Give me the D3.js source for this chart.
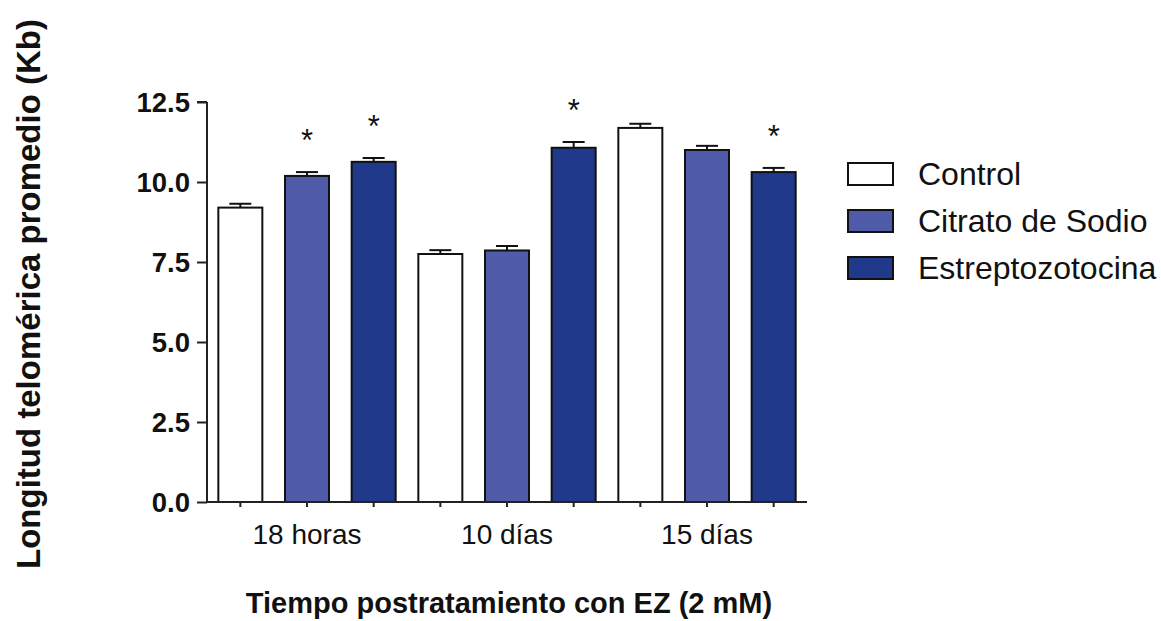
<!DOCTYPE html>
<html>
<head>
<meta charset="utf-8">
<script src="https://cdn.jsdelivr.net/npm/d3@7"></script>
<style>
  html, body { margin: 0; padding: 0; background: #fff; }
  svg { display: block; font-family: "Liberation Sans", Arial, sans-serif; }
</style>
</head>
<body>
<svg id="chart" width="1161" height="621"></svg>
<script>
// ---- data ----
const groups = ["18 horas", "10 días", "15 días"];
const seriesNames = ["Control", "Citrato de Sodio", "Estreptozotocina"];
const controlValues = [9.2, 7.75, 11.69];
const citratoValues = [10.19, 7.86, 11.0];
const estrepValues = [10.63, 11.07, 10.31];
const controlErr = [0.12, 0.12, 0.13];
const citratoErr = [0.12, 0.14, 0.13];
const estrepErr = [0.12, 0.18, 0.13];
const controlSig = [false, false, false];
const citratoSig = [true, false, false];
const estrepSig = [true, true, true];
const yTicks = [0, 2.5, 5, 7.5, 10, 12.5];
const yTitle = "Longitud telomérica promedio (Kb)";
const xTitle = "Tiempo postratamiento con EZ (2 mM)";

const colors = ["#ffffff", "#4f5aa8", "#20398b"];
const seriesVals = [controlValues, citratoValues, estrepValues];
const seriesErr = [controlErr, citratoErr, estrepErr];
const seriesSig = [controlSig, citratoSig, estrepSig];

const rows = [];
groups.forEach((g, gi) => {
  seriesNames.forEach((s, si) => {
    rows.push({ key: g + "|" + s, group: g, si, value: seriesVals[si][gi], err: seriesErr[si][gi], sig: seriesSig[si][gi] });
  });
});

const svg = d3.select("#chart");
const x0 = 207, x1 = 807, yBase = 502, yTop = 102;

const x = d3.scaleBand().domain(rows.map(d => d.key)).range([x0, x1]).paddingInner(0.34).paddingOuter(0.17);
const y = d3.scaleLinear().domain([0, 12.5]).range([yBase, yTop]);

// bars
svg.append("g").selectAll("rect").data(rows).join("rect")
  .attr("x", d => x(d.key))
  .attr("y", d => y(d.value))
  .attr("width", x.bandwidth())
  .attr("height", d => y(0) - y(d.value))
  .attr("fill", d => colors[d.si])
  .attr("stroke", "#111")
  .attr("stroke-width", 2);

// error bars
const eb = svg.append("g").attr("stroke", "#111").attr("stroke-width", 2);
rows.forEach(d => {
  const cx = x(d.key) + x.bandwidth() / 2;
  eb.append("line").attr("x1", cx).attr("x2", cx).attr("y1", y(d.value)).attr("y2", y(d.value + d.err));
  eb.append("line").attr("x1", cx - 11).attr("x2", cx + 11).attr("y1", y(d.value + d.err)).attr("y2", y(d.value + d.err));
});

// asterisks
svg.append("g").selectAll("text").data(rows.filter(d => d.sig)).join("text")
  .attr("x", d => x(d.key) + x.bandwidth() / 2)
  .attr("y", d => y(d.value + d.err) - 38 + 17)
  .attr("text-anchor", "middle")
  .attr("font-size", 31)
  .attr("fill", "#111")
  .text("*");

// y axis
const yAxis = d3.axisLeft(y).tickValues(yTicks).tickFormat(d3.format(".1f")).tickSize(10).tickPadding(7);
const gy = svg.append("g").attr("transform", `translate(${x0},0)`).call(yAxis);
gy.select(".domain").attr("stroke", "#222").attr("stroke-width", 2).attr("d", `M0,${yTop}H-10M0,${yTop}V${yBase}`);
gy.selectAll(".tick line").attr("stroke", "#222").attr("stroke-width", 2);
gy.selectAll(".tick text").attr("font-size", 27.5).attr("font-weight", "bold").attr("fill", "#111")
  .attr("font-family", "'Liberation Sans', Arial, sans-serif").attr("dy", "0.36em");

// x axis (ticks under each bar)
const xAxis = d3.axisBottom(x).tickSize(5).tickFormat("");
const gx = svg.append("g").attr("transform", `translate(0,${yBase})`).call(xAxis);
gx.select(".domain").attr("stroke", "#222").attr("stroke-width", 2).attr("d", `M${x0},0H${x1}`);
gx.selectAll(".tick line").attr("stroke", "#222").attr("stroke-width", 2);

// group labels
svg.append("g").selectAll("text").data(groups).join("text")
  .attr("x", g => x(g + "|" + seriesNames[1]) + x.bandwidth() / 2)
  .attr("y", 544)
  .attr("text-anchor", "middle")
  .attr("font-size", 28)
  .attr("fill", "#111")
  .text(g => g);

// axis titles
svg.append("text")
  .attr("transform", "translate(40,294) rotate(-90)")
  .attr("text-anchor", "middle")
  .attr("font-size", 33)
  .attr("font-weight", "bold")
  .attr("fill", "#111")
  .text(yTitle);

svg.append("text")
  .attr("x", 509).attr("y", 613)
  .attr("text-anchor", "middle")
  .attr("font-size", 29)
  .attr("font-weight", "bold")
  .attr("fill", "#111")
  .text(xTitle);

// legend
const lg = svg.append("g").selectAll("g").data(seriesNames).join("g")
  .attr("transform", (d, i) => `translate(848,${163 + i * 47})`);
lg.append("rect").attr("width", 45).attr("height", 22)
  .attr("fill", (d, i) => colors[i]).attr("stroke", "#111").attr("stroke-width", 2);
lg.append("text").attr("x", 70).attr("y", 22).attr("font-size", 32).attr("fill", "#111").text(d => d);
</script>
</body>
</html>
